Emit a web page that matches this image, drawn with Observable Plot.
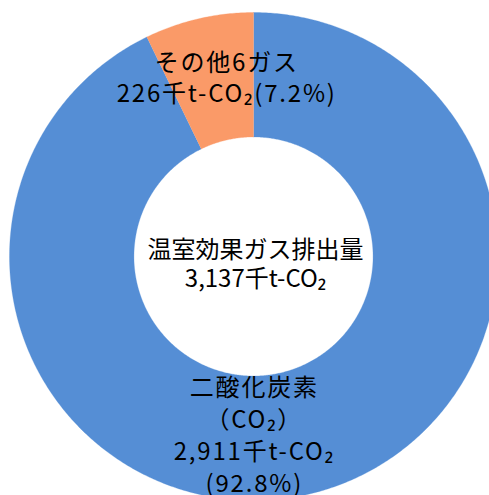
<!DOCTYPE html>
<html>
<head>
<meta charset="utf-8">
<script src="https://cdn.jsdelivr.net/npm/d3@7"></script>
<script src="https://cdn.jsdelivr.net/npm/@observablehq/plot@0.6"></script>
<style>
  html, body { margin: 0; padding: 0; background: #fff; overflow: hidden; }
  #chart svg { display: block; }
  #chart g.slice-label text { letter-spacing: 1.8px; }
</style>
</head>
<body>
<div id="chart"></div>
<script>
// ---- data ----
const categories = ["二酸化炭素\n（CO₂）", "その他6ガス"];
const keys = ["co2", "other"];
const values = [2911, 226];          // 千t-CO₂
const percents = [92.8, 7.2];        // %
const totalLabel = "温室効果ガス排出量";
const totalValue = 3137;             // 千t-CO₂
const colors = ["#558ED5", "#FA9A68"];

// ---- derived ----
const fmt = d3.format(",");
const unit = "千t-CO₂";
const rOuter = 1, rInner = 0.49;
const pie = d3.pie().sort(null).value(d => d.value);
const slices = pie(keys.map((k, i) => ({key: k, value: values[i]})));

const ring = [];
for (const s of slices) {
  const n = Math.max(4, Math.ceil((s.endAngle - s.startAngle) / (Math.PI / 360)));
  for (let j = 0; j <= n; j++) {
    const a = s.startAngle + (s.endAngle - s.startAngle) * j / n;
    ring.push({key: s.data.key, x: rOuter * Math.sin(a), y: rOuter * Math.cos(a)});
  }
  for (let j = n; j >= 0; j--) {
    const a = s.startAngle + (s.endAngle - s.startAngle) * j / n;
    ring.push({key: s.data.key, x: rInner * Math.sin(a), y: rInner * Math.cos(a)});
  }
}

const rMid = (rOuter + rInner) / 2;
const centroid = s => {
  const a = (s.startAngle + s.endAngle) / 2;
  return {x: rMid * Math.sin(a), y: rMid * Math.cos(a)};
};
const labelCO2 = [{...centroid(slices[0]),
  text: `${categories[0]}\n${fmt(values[0])}${unit}\n(${percents[0]}%)`}];
const labelOther = [{...centroid(slices[1]),
  text: `${categories[1]}\n${fmt(values[1])}${unit}(${percents[1]}%)`}];
const labelTotal = [{x: 0, y: 0, text: `${totalLabel}\n${fmt(totalValue)}${unit}`}];

const font = "'Noto Sans CJK JP', 'Noto Sans', sans-serif";

const chart = Plot.plot({
  width: 489,
  height: 495,
  margin: 0,
  x: {domain: [-253 / 244, (489 - 253) / 244], axis: null},
  y: {domain: [-(495 - 256) / 244, 256 / 244], axis: null},
  color: {domain: keys, range: colors},
  style: {fontFamily: font, background: "#fff", color: "#000"},
  marks: [
    Plot.line(ring, {x: "x", y: "y", z: "key", fill: "key", stroke: "key", strokeWidth: 0.3, clip: true}),
    Plot.text(labelTotal, {x: "x", y: "y", text: "text", fontSize: 24, lineHeight: 1.17, dx: 2, dy: 7, fill: "#000"}),
    Plot.text(labelOther, {x: "x", y: "y", text: "text", fontSize: 24, lineHeight: 1.3, dx: 14, dy: -3, fill: "#000", className: "slice-label"}),
    Plot.text(labelCO2, {x: "x", y: "y", text: "text", fontSize: 24, lineHeight: 1.33, dx: -40, dy: 0, fill: "#000", className: "slice-label"})
  ]
});
document.getElementById("chart").appendChild(chart);
</script>
</body>
</html>
